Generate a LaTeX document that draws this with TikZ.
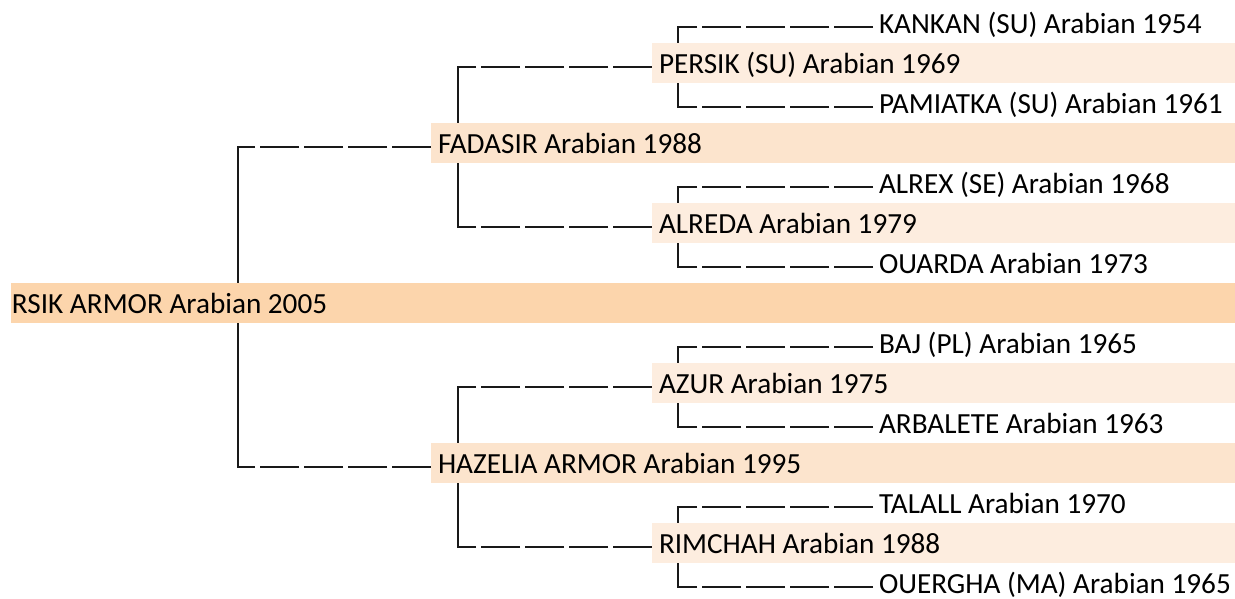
\documentclass[tikz,border=0pt]{standalone}
\usepackage{fontspec}
\setmainfont{Carlito}
\usetikzlibrary{backgrounds,calc}
\definecolor{band0}{RGB}{252,213,172}
\definecolor{band1}{RGB}{252,228,205}
\definecolor{band2}{RGB}{253,237,223}
\tikzset{
  horse/.style={anchor=west,inner ysep=0pt,outer sep=0pt,minimum height=40pt,
    text height=20pt,text depth=0pt,align=flush left,font=\fontsize{29.2}{35}\selectfont},
  gen0/.style={horse,fill=band0,inner xsep=1pt,text width=1222pt},
  gen1/.style={horse,fill=band1,inner xsep=7pt,text width=790pt},
  gen2/.style={horse,fill=band2,inner xsep=7pt,text width=569pt},
  gen3/.style={horse,inner xsep=6pt},
  hline/.style={line width=2pt,black!90,dash pattern=on 39pt off 5pt},
  vline/.style={line width=2pt,black!90,line cap=rect},
}
\begin{document}
\begin{tikzpicture}[x=1pt,y=-1pt]
\useasboundingbox (0,0) rectangle (1235,598);
\node[gen0] (rsik) at (11,303) {RSIK ARMOR Arabian 2005};
%
\node[gen1] (fadasir) at (431,143) {FADASIR Arabian 1988};
\node[gen1] (hazelia) at (431,463) {HAZELIA ARMOR Arabian 1995};
%
\node[gen2] (persik) at (652,63) {PERSIK (SU) Arabian 1969};
\node[gen2] (alreda) at (652,223) {ALREDA Arabian 1979};
\node[gen2] (azur) at (652,383) {AZUR Arabian 1975};
\node[gen2] (rimchah) at (652,543) {RIMCHAH Arabian 1988};
%
\node[gen3] (kankan) at (873,23) {KANKAN (SU) Arabian 1954};
\node[gen3] (pamiatka) at (873,103) {PAMIATKA (SU) Arabian 1961};
\node[gen3] (alrex) at (873,183) {ALREX (SE) Arabian 1968};
\node[gen3] (ouarda) at (873,263) {OUARDA Arabian 1973};
\node[gen3] (baj) at (873,343) {BAJ (PL) Arabian 1965};
\node[gen3] (arbalete) at (873,423) {ARBALETE Arabian 1963};
\node[gen3] (talall) at (873,503) {TALALL Arabian 1970};
\node[gen3] (ouergha) at (873,583) {OUERGHA (MA) Arabian 1965};
%
\coordinate (s0) at (238,0);
\coordinate (s1) at (458,0);
\coordinate (s2) at (678,0);
%
\begin{scope}[on background layer]
\draw[vline] ($(fadasir.west -| s0)+(0,3.5)$) -- ($(hazelia.west -| s0)+(0,3.5)$);
\draw[vline] ($(persik.west -| s1)+(0,3.5)$) -- ($(alreda.west -| s1)+(0,3.5)$);
\draw[vline] ($(azur.west -| s1)+(0,3.5)$) -- ($(rimchah.west -| s1)+(0,3.5)$);
\draw[vline] ($(kankan.west -| s2)+(0,3.5)$) -- ($(pamiatka.west -| s2)+(0,3.5)$);
\draw[vline] ($(alrex.west -| s2)+(0,3.5)$) -- ($(ouarda.west -| s2)+(0,3.5)$);
\draw[vline] ($(baj.west -| s2)+(0,3.5)$) -- ($(arbalete.west -| s2)+(0,3.5)$);
\draw[vline] ($(talall.west -| s2)+(0,3.5)$) -- ($(ouergha.west -| s2)+(0,3.5)$);
%
\draw[hline] ($(fadasir.west)+(0,3.5)$) -- ($(fadasir.west -| s0)+(0,3.5)$);
\draw[hline] ($(hazelia.west)+(0,3.5)$) -- ($(hazelia.west -| s0)+(0,3.5)$);
\draw[hline] ($(persik.west)+(0,3.5)$) -- ($(persik.west -| s1)+(0,3.5)$);
\draw[hline] ($(alreda.west)+(0,3.5)$) -- ($(alreda.west -| s1)+(0,3.5)$);
\draw[hline] ($(azur.west)+(0,3.5)$) -- ($(azur.west -| s1)+(0,3.5)$);
\draw[hline] ($(rimchah.west)+(0,3.5)$) -- ($(rimchah.west -| s1)+(0,3.5)$);
\draw[hline] ($(kankan.west)+(0,3.5)$) -- ($(kankan.west -| s2)+(0,3.5)$);
\draw[hline] ($(pamiatka.west)+(0,3.5)$) -- ($(pamiatka.west -| s2)+(0,3.5)$);
\draw[hline] ($(alrex.west)+(0,3.5)$) -- ($(alrex.west -| s2)+(0,3.5)$);
\draw[hline] ($(ouarda.west)+(0,3.5)$) -- ($(ouarda.west -| s2)+(0,3.5)$);
\draw[hline] ($(baj.west)+(0,3.5)$) -- ($(baj.west -| s2)+(0,3.5)$);
\draw[hline] ($(arbalete.west)+(0,3.5)$) -- ($(arbalete.west -| s2)+(0,3.5)$);
\draw[hline] ($(talall.west)+(0,3.5)$) -- ($(talall.west -| s2)+(0,3.5)$);
\draw[hline] ($(ouergha.west)+(0,3.5)$) -- ($(ouergha.west -| s2)+(0,3.5)$);
\end{scope}
\end{tikzpicture}
\end{document}
